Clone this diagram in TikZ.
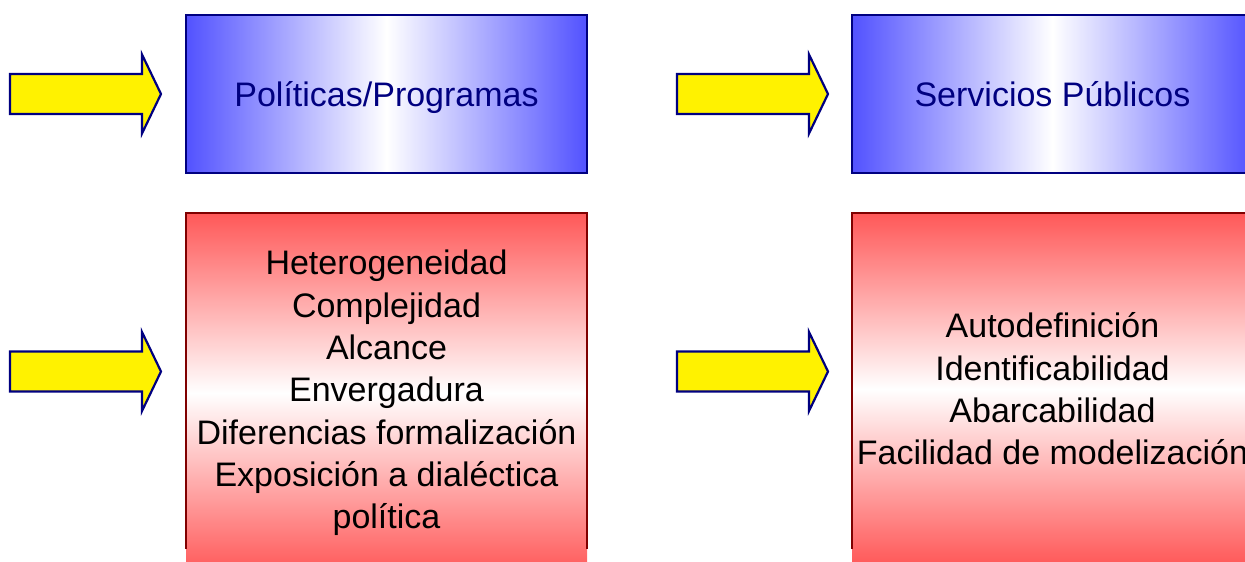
\documentclass[tikz,border=0pt]{standalone}
\usepackage{fontspec}
\setmainfont{Liberation Sans}
\definecolor{navy}{RGB}{0,0,128}
\definecolor{boxblue}{RGB}{82,82,255}
\definecolor{boxred}{RGB}{255,88,88}
\definecolor{darkred}{RGB}{128,0,0}
\begin{document}
\begin{tikzpicture}[x=1pt,y=-1pt,
  bigtext/.style={font=\fontsize{34}{42.3}\selectfont},
  bluebox/.style={draw=navy, line width=1.8pt, left color=boxblue, right color=boxblue,
    middle color=white, minimum width=401pt, minimum height=158pt, inner sep=0pt,
    text=navy, bigtext, text height=24pt, text depth=0pt},
  redbox/.style={top color=boxred, bottom color=boxred, middle color=white,
    minimum width=401pt, inner sep=0pt, align=center, bigtext},
  redframe/.style={draw=darkred, line width=1.8pt},
  yarrow/.style={draw=navy, fill=yellow, line width=2.2pt, line join=miter},
  yarr/.pic={\draw[yarrow] (0,-20) -- (132,-20) -- (132,-39.5) -- (151,0) -- (132,39.5) -- (132,20) -- (0,20) -- cycle;}]
\useasboundingbox (0,0) rectangle (1245,562);
\clip (0,0) rectangle (1245,562);
\coordinate (cut) at (0,549);

% blue boxes
\node[bluebox] (pp) at (386.5,94) {Políticas/Programas};
\node[bluebox] (sp) at (1052.5,94) {Servicios Públicos};

% red boxes
\node[redbox, minimum height=360pt] (het) at (386.5,393) {Heterogeneidad\\Complejidad\\Alcance\\Envergadura\\Diferencias formalización\\Exposición a dialéctica\\política};
\node[redbox, minimum height=352pt] (auto) at (1052.5,389) {Autodefinición\\Identificabilidad\\Abarcabilidad\\Facilidad de modelización};
\draw[redframe] (het.north west |- cut) -- (het.north west) -- (het.north east) -- (het.north east |- cut);
\draw[redframe] (auto.north west |- cut) -- (auto.north west) -- (auto.north east) -- (auto.north east |- cut);

% arrows
\pic at (10,94) {yarr};
\pic at (677,94) {yarr};
\pic at (10,371.5) {yarr};
\pic at (677,371.5) {yarr};
\end{tikzpicture}
\end{document}
